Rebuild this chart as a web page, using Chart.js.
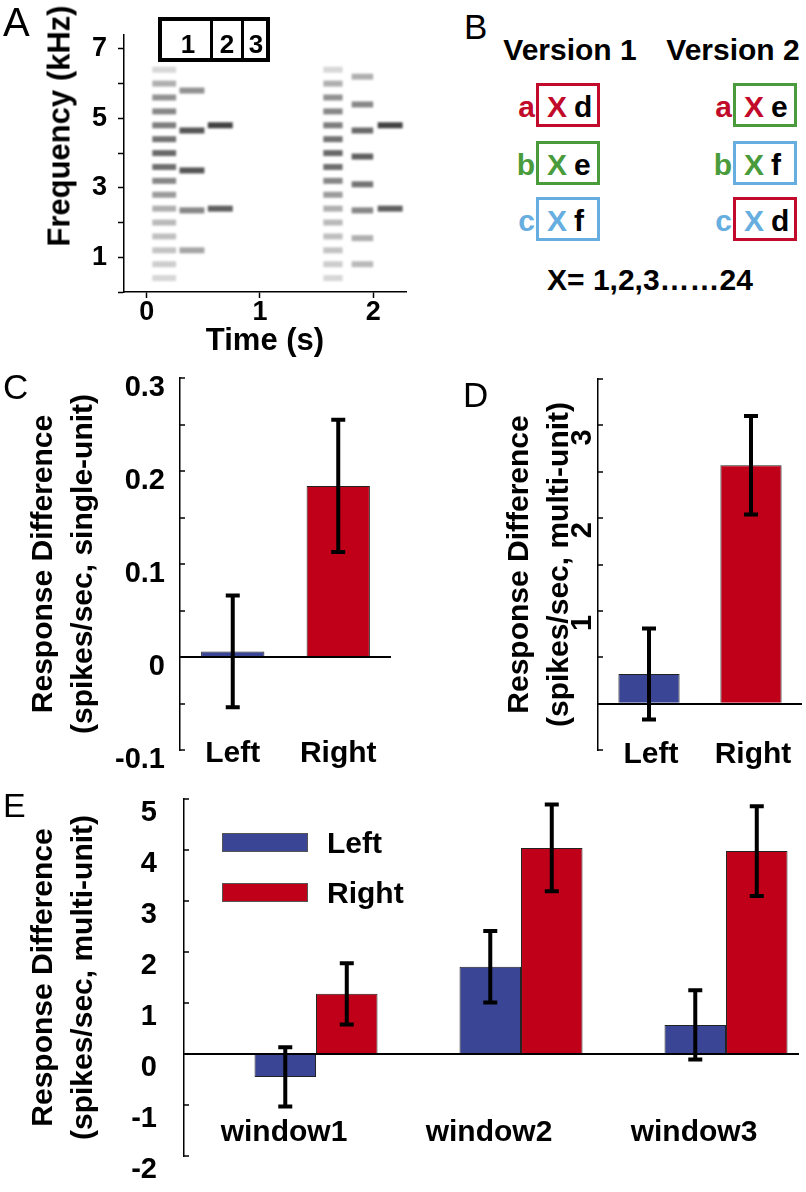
<!DOCTYPE html>
<html>
<head>
<meta charset="utf-8">
<script src="https://cdn.jsdelivr.net/npm/chart.js@4.4.1/dist/chart.umd.min.js"></script>
<style>
html, body { margin: 0; padding: 0; background: #fff; }
#fig { position: relative; width: 806px; height: 1192px; overflow: hidden; font-family: 'Liberation Sans', Arial, sans-serif; color: #000; }
#fig canvas { position: absolute; }
.t { position: absolute; white-space: nowrap; line-height: 1; }
.box { position: absolute; box-sizing: border-box; }
</style>
</head>
<body>
<div id="fig">
  <canvas id="chartA" width="420" height="360" style="left:0;top:0"></canvas>
  <canvas id="chartC" width="400" height="420" style="left:0;top:360px"></canvas>
  <canvas id="chartD" width="406" height="420" style="left:400px;top:360px"></canvas>
  <canvas id="chartE" width="806" height="412" style="left:0;top:780px"></canvas>
</div>
<script>
// ---- panel A: spectrogram bands (freq in kHz, level 0..1, times in s)
const harmonicFreqs = [0.4, 0.8, 1.2, 1.6, 2.0, 2.4, 2.8, 3.2, 3.6, 4.0, 4.4, 4.8, 5.2, 5.6, 6.0, 6.4];
const harmonicLevels = [0.1, 0.15, 0.2, 0.22, 0.25, 0.3, 0.4, 0.5, 0.62, 0.65, 0.6, 0.55, 0.5, 0.45, 0.3, 0.1];
const tok1MidFreqs = [1.2, 2.35, 3.5, 4.65, 5.8];
const tok1MidLevels = [0.35, 0.5, 0.75, 0.75, 0.45];
const tok2MidFreqs = [0.8, 1.55, 2.35, 3.1, 3.9, 4.65, 5.4, 6.2];
const tok2MidLevels = [0.25, 0.3, 0.5, 0.6, 0.7, 0.65, 0.5, 0.3];
const endFreqs = [2.4, 4.8];
const endLevels = [0.7, 0.85];
const tok1Times = [[0.05, 0.26], [0.29, 0.51], [0.54, 0.76]];
const tok2Times = [[1.56, 1.73], [1.81, 2.0], [2.04, 2.26]];
const freqTickLabels = [1, 3, 5, 7];
const timeTickLabels = [0, 1, 2];

// ---- panels C, D, E
const condLabels = ['Left', 'Right'];
const condColors = ['#3A4596', '#C00018'];
const singleMeans = [0.006, 0.184];
const singleErr = [0.06, 0.071];
const singleTickLabels = [-0.1, 0, 0.1, 0.2, 0.3];
const multiMeans = [0.32, 2.57];
const multiErr = [0.49, 0.53];
const multiTickLabels = [1, 2, 3];
const windowLabels = ['window1', 'window2', 'window3'];
const leftMeans = [-0.45, 1.71, 0.57];
const leftErr = [0.58, 0.7, 0.68];
const rightMeans = [1.18, 4.04, 3.98];
const rightErr = [0.6, 0.85, 0.88];

// ---- panel B
const rowLetters = ['a', 'b', 'c'];
const rowColors = ['#C20A2A', '#4A9B3C', '#66AEE0'];
const v1Partners = ['d', 'e', 'f'];
const v2Partners = ['e', 'f', 'd'];
const v1BoxColors = [rowColors[0], rowColors[1], rowColors[2]];
const v2BoxColors = [rowColors[1], rowColors[2], rowColors[0]];

const FONT = "'Liberation Sans', Arial, sans-serif";
Chart.defaults.font.family = FONT;
Chart.defaults.color = '#000';

const fig = document.getElementById('fig');

function addText(text, x, capY, size, o) {
    o = o || {};
    const d = document.createElement('div');
    d.className = 't';
    d.textContent = text;
    d.style.fontSize = size + 'px';
    d.style.fontWeight = o.bold === false ? 'normal' : 'bold';
    if (o.color) d.style.color = o.color;
    d.style.left = x + 'px';
    d.style.top = (capY - 0.49 * size) + 'px';
    if (o.align === 'center') d.style.transform = 'translateX(-50%)';
    if (o.align === 'right') d.style.transform = 'translateX(-100%)';
    fig.appendChild(d);
    return d;
}

function addBox(left, top, w, h, style) {
    const d = document.createElement('div');
    d.className = 'box';
    d.style.left = left + 'px';
    d.style.top = top + 'px';
    d.style.width = w + 'px';
    d.style.height = h + 'px';
    Object.assign(d.style, style);
    fig.appendChild(d);
    return d;
}

function bold(size, lh) {
    return { size: size, weight: 'bold', lineHeight: lh || 1.2 };
}

// fixed axis width, and no extra room for the end labels
function fixWidth(w) {
    return s => { s.width = w; s.paddingTop = 0; s.paddingBottom = 0; };
}

const base = {
    responsive: false,
    animation: false,
    events: []
};
const noLegend = { legend: { display: false }, tooltip: { enabled: false } };

// error bars drawn from dataset.errors through the y scale
const errorBars = {
    id: 'errorBars',
    afterDatasetsDraw(chart) {
        const ctx = chart.ctx;
        const yScale = chart.scales.y;
        chart.data.datasets.forEach((ds, i) => {
            if (!ds.errors) return;
            const meta = chart.getDatasetMeta(i);
            meta.data.forEach((bar, j) => {
                const raw = ds.data[j];
                const v = typeof raw === 'object' ? raw.y : raw;
                const top = yScale.getPixelForValue(v + ds.errors[j]);
                const bot = yScale.getPixelForValue(v - ds.errors[j]);
                ctx.save();
                ctx.strokeStyle = '#000';
                ctx.lineWidth = 4;
                ctx.beginPath();
                ctx.moveTo(bar.x, top); ctx.lineTo(bar.x, bot);
                ctx.moveTo(bar.x - 7, top); ctx.lineTo(bar.x + 7, top);
                ctx.moveTo(bar.x - 7, bot); ctx.lineTo(bar.x + 7, bot);
                ctx.stroke();
                ctx.restore();
            });
        });
    }
};

// category names sit above the bottom of the plot area, where the scale would clip them
const catLabels = {
    id: 'catLabels',
    afterDraw(chart, args, o) {
        const s = chart.scales.x;
        const ctx = chart.ctx;
        ctx.save();
        ctx.font = 'bold ' + o.size + 'px ' + FONT;
        ctx.fillStyle = '#000';
        ctx.textAlign = 'center';
        ctx.textBaseline = 'middle';
        o.labels.forEach((text, i) => {
            ctx.fillText(text, s.getPixelForTick(i) + o.dx, chart.chartArea.bottom + o.dy);
        });
        ctx.restore();
    }
};

const softBands = {
    id: 'softBands',
    beforeDatasetsDraw(chart) { chart.ctx.save(); chart.ctx.filter = 'blur(1px)'; },
    afterDatasetsDraw(chart) { chart.ctx.restore(); }
};

function yGrid() {
    return {
        drawTicks: true,
        tickLength: -5,
        tickColor: '#000',
        tickWidth: 1.5,
        lineWidth: 2,
        color: c => (c.tick && Math.abs(c.tick.value) < 1e-9) ? '#000' : 'rgba(0,0,0,0)'
    };
}

function grey(level) {
    const v = Math.round(235 - level * 200);
    return 'rgb(' + v + ',' + v + ',' + v + ')';
}

function bands(t, freqs, levels) {
    return freqs.map((f, i) => ({
        data: [{ x: t[0], y: f }, { x: t[1], y: f }],
        borderColor: grey(levels[i]),
        borderWidth: 6,
        borderCapStyle: 'butt',
        pointRadius: 0,
        fill: false
    }));
}

// ---------- A
const bandSets = [].concat(
    bands(tok1Times[0], harmonicFreqs, harmonicLevels),
    bands(tok1Times[1], tok1MidFreqs, tok1MidLevels),
    bands(tok1Times[2], endFreqs, endLevels),
    bands(tok2Times[0], harmonicFreqs, harmonicLevels),
    bands(tok2Times[1], tok2MidFreqs, tok2MidLevels),
    bands(tok2Times[2], endFreqs, endLevels)
);

new Chart(document.getElementById('chartA'), {
    type: 'line',
    data: { datasets: bandSets },
    options: Object.assign({}, base, {
        plugins: noLegend,
        layout: { padding: { top: 35, right: 14, left: 0, bottom: 0 } },
        scales: {
            x: {
                type: 'linear', min: -0.2, max: 2.29,
                afterFit: s => { s.height = 68; s.paddingLeft = 0; s.paddingRight = 0; },
                grid: { drawOnChartArea: false, tickLength: 6, tickColor: '#000', tickWidth: 1.5 },
                border: { color: '#000', width: 1.5 },
                ticks: { stepSize: 1, includeBounds: false, font: bold(27), padding: -2,
                    callback: v => timeTickLabels.includes(v) ? String(v) : '' },
                title: { display: true, text: 'Time (s)', font: bold(31), padding: { top: 0, bottom: 0 } }
            },
            y: {
                type: 'linear', min: 0, max: 7.4,
                afterFit: fixWidth(124),
                grid: { drawOnChartArea: false, tickLength: 6, tickColor: '#000', tickWidth: 1.5 },
                border: { color: '#000', width: 1.5 },
                ticks: { stepSize: 1, includeBounds: false, autoSkip: false, font: bold(27), padding: 11,
                    callback: v => freqTickLabels.includes(v) ? String(v) : '' }
            }
        }
    }),
    plugins: [softBands]
});

// ---------- C
new Chart(document.getElementById('chartC'), {
    type: 'bar',
    data: {
        labels: condLabels,
        datasets: [{ data: singleMeans, errors: singleErr, backgroundColor: condColors, borderColor: '#222', borderWidth: 1 }]
    },
    options: Object.assign({}, base, {
        plugins: Object.assign({ catLabels: { labels: condLabels, size: 30, dx: 0, dy: 4 } }, noLegend),
        layout: { padding: { top: 18, right: 9, left: 0, bottom: 0 } },
        datasets: { bar: { categoryPercentage: 1, barPercentage: 0.6 } },
        scales: {
            x: {
                afterFit: s => { s.height = 30; },
                grid: { display: false, drawTicks: false },
                border: { display: false },
                ticks: { display: false }
            },
            y: {
                min: -0.1, max: 0.3,
                afterFit: fixWidth(180),
                grid: yGrid(),
                border: { color: '#000', width: 1.5 },
                ticks: { stepSize: 0.05, autoSkip: false, font: bold(29), padding: 20, labelOffset: 10,
                    callback: v => {
                        const r = Math.round(v * 100) / 100;
                        return singleTickLabels.some(t => Math.abs(t - r) < 1e-9) ? String(r) : '';
                    } },
                title: { display: true, text: ['Response Difference', '(spikes/sec, single-unit)'],
                    font: bold(30, 1.33), padding: { top: 24, bottom: 0 } }
            }
        }
    }),
    plugins: [errorBars, catLabels]
});

// ---------- D
new Chart(document.getElementById('chartD'), {
    type: 'bar',
    data: {
        labels: condLabels,
        datasets: [{ data: multiMeans, errors: multiErr, backgroundColor: condColors, borderColor: '#222', borderWidth: 1 }]
    },
    options: Object.assign({}, base, {
        plugins: Object.assign({ catLabels: { labels: condLabels, size: 30, dx: 2, dy: 5 } }, noLegend),
        layout: { padding: { top: 19, right: 4, left: 0, bottom: 0 } },
        datasets: { bar: { categoryPercentage: 1, barPercentage: 0.6 } },
        scales: {
            x: {
                afterFit: s => { s.height = 30; },
                grid: { display: false, drawTicks: false },
                border: { display: false },
                ticks: { display: false }
            },
            y: {
                min: -0.5, max: 3.5,
                afterFit: fixWidth(198),
                grid: yGrid(),
                border: { color: '#000', width: 1.5 },
                ticks: { stepSize: 0.5, autoSkip: false, font: bold(29), padding: 20, labelOffset: 4,
                    minRotation: 90, maxRotation: 90,
                    callback: v => multiTickLabels.includes(v) ? String(v) : '' },
                title: { display: true, text: ['Response Difference', '(spikes/sec, multi-unit)'],
                    font: bold(30, 1.33), padding: { top: 100, bottom: 0 } }
            }
        }
    }),
    plugins: [errorBars, catLabels]
});

// ---------- E
const windowPos = windowLabels.map((w, i) => i + 1);
const chartE = new Chart(document.getElementById('chartE'), {
    type: 'bar',
    data: {
        datasets: [
            { label: condLabels[0], data: windowPos.map((x, i) => ({ x: x, y: leftMeans[i] })), errors: leftErr,
              backgroundColor: condColors[0], borderColor: '#222', borderWidth: 1 },
            { label: condLabels[1], data: windowPos.map((x, i) => ({ x: x, y: rightMeans[i] })), errors: rightErr,
              backgroundColor: condColors[1], borderColor: '#222', borderWidth: 1 }
        ]
    },
    options: Object.assign({}, base, {
        plugins: Object.assign({ catLabels: { labels: windowLabels, size: 30, dx: -32, dy: -23 } }, noLegend),
        layout: { padding: { top: 19, right: 7, left: 0, bottom: 0 } },
        datasets: { bar: { categoryPercentage: 0.6, barPercentage: 1 } },
        scales: {
            x: {
                type: 'linear', min: 0.356, max: 3.356, offset: false,
                afterBuildTicks: s => { s.ticks = windowPos.map(v => ({ value: v })); },
                afterFit: s => { s.height = 36; },
                grid: { display: false, drawTicks: false, offset: false },
                border: { display: false },
                ticks: { display: false }
            },
            y: {
                min: -2, max: 5,
                afterFit: fixWidth(184),
                grid: yGrid(),
                border: { color: '#000', width: 1.5 },
                ticks: { stepSize: 1, autoSkip: false, font: bold(29), padding: 32, labelOffset: 14 },
                title: { display: true, text: ['Response Difference', '(spikes/sec, multi-unit)'],
                    font: bold(30, 1.33), padding: { top: 24, bottom: 0 } }
            }
        }
    }),
    plugins: [errorBars, catLabels]
});

// legend of E, built from the datasets
chartE.data.datasets.forEach((ds, i) => {
    const cy = 843 + i * 50;
    addBox(222, cy - 10, 86, 19, { background: ds.backgroundColor, border: '1px solid #555' });
    addText(ds.label, 327, cy, 30);
});

// ---------- panel letters
addText('A', 3, 22, 40, { bold: false });
addText('B', 464, 26, 35, { bold: false });
addText('C', 3, 386, 35, { bold: false });
addText('D', 463, 394, 35, { bold: false });
addText('E', 3, 805, 34, { bold: false });

// A: y title and segment box
const yTitle = addText('Frequency (kHz)', 0, 0, 31);
yTitle.style.left = '59px';
yTitle.style.top = '126px';
yTitle.style.transform = 'translate(-50%,-50%) rotate(-90deg)';
addBox(158, 17, 112, 45, { border: '4px solid #000' });
addBox(210, 17, 3, 45, { background: '#000' });
addBox(241, 17, 3, 45, { background: '#000' });
addText('1', 188, 44, 26, { align: 'center' });
addText('2', 227, 44, 26, { align: 'center' });
addText('3', 256, 44, 26, { align: 'center' });

// B: diagram
addText('Version 1', 570, 50, 30, { align: 'center' });
addText('Version 2', 733, 50, 30, { align: 'center' });
const rowTops = [83, 141, 197];
[[536, v1Partners, v1BoxColors], [733, v2Partners, v2BoxColors]].forEach(([left, partners, boxColors]) => {
    rowLetters.forEach((letter, i) => {
        const top = rowTops[i];
        const cy = top + 24;
        addBox(left, top, 64, 44, { border: '3px solid ' + boxColors[i] });
        addText(letter, left - 1, cy, 30, { align: 'right', color: rowColors[i] });
        addText('X', left + 11, cy, 30, { color: rowColors[i] });
        addText(partners[i], left + 38, cy, 30);
    });
});
addText('X= 1,2,3\u2026\u202624', 650, 280, 30, { align: 'center' });
</script>
</body>
</html>
